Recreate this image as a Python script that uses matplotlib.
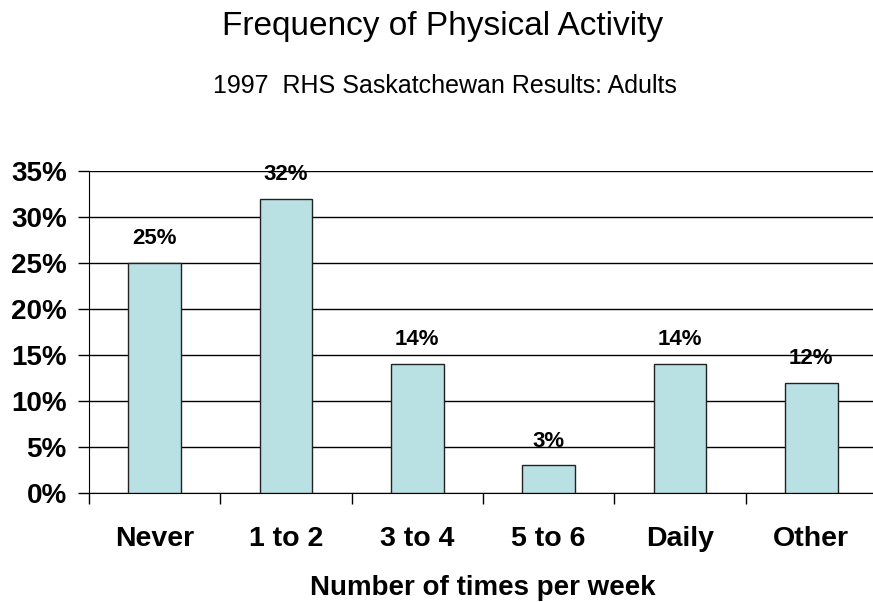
import numpy as np
import matplotlib.pyplot as plt

categories = ['Never', '1 to 2', '3 to 4', '5 to 6', 'Daily', 'Other']
values = [25, 32, 14, 3, 14, 12]
yticks = [0, 5, 10, 15, 20, 25, 30, 35]

plt.rcParams['font.family'] = ['Liberation Sans', 'DejaVu Sans']

W, H = 873, 602
fig = plt.figure(figsize=(W / 100, H / 100), dpi=100)
ax = fig.add_axes([89/W, 109/H, 788/W, 322/H])

x = np.arange(len(categories))
ax.bar(x, values, width=0.40, color='#B9E0E3', edgecolor='#222222', linewidth=1.0, zorder=3)

for xi, v in zip(x, values):
    ax.annotate(f'{v}%', (xi, v), xytext=(0, 10), textcoords='offset points',
                ha='center', va='bottom', fontsize=16, fontweight='bold')

ax.set_xlim(-0.5, len(categories) - 0.5)
ax.set_ylim(0, 35)
ax.set_yticks(yticks)
ax.set_yticklabels([f'{t}%' for t in yticks], fontsize=20, fontweight='bold')
ax.yaxis.grid(True, color='black', linewidth=1.0, zorder=0)

# boundaries get the tick marks, centres get the labels
ax.set_xticks(np.arange(-0.5, len(categories), 1.0))
ax.set_xticklabels([])
ax.set_xticks(x, minor=True)
ax.set_xticklabels(categories, minor=True, fontsize=20.5, fontweight='bold')
ax.tick_params(axis='x', which='minor', length=0, pad=24)
ax.tick_params(axis='x', which='major', length=8, width=1, direction='out')
ax.tick_params(axis='y', length=8, width=1, direction='out', pad=8)

for s in ['top', 'right']:
    ax.spines[s].set_visible(False)

fig.text(483/W, 1 - 595/H, 'Number of times per week', ha='center', va='baseline',
         fontsize=20, fontweight='bold')
fig.text(443/W, 1 - 35/H, 'Frequency of Physical Activity', ha='center', va='baseline', fontsize=24)
fig.text(445/W, 1 - 93/H, '1997  RHS Saskatchewan Results: Adults', ha='center', va='baseline', fontsize=18)

plt.savefig('out.png', dpi=100)
